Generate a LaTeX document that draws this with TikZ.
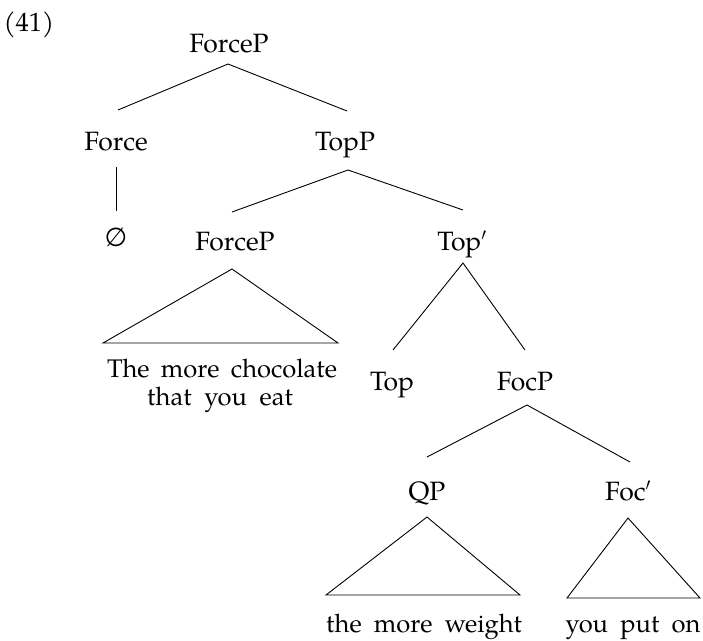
\documentclass[tikz,border=0pt]{standalone}
\usepackage{fontspec}
\setmainfont{TeX Gyre Pagella}
\newfontfamily\symfont{DejaVu Sans}
\usetikzlibrary{calc}
\begin{document}
\begin{tikzpicture}[x=1pt,y=-1pt,
  lbl/.style={inner sep=0pt,anchor=base,font=\fontsize{26.5}{30}\selectfont},
  leaf/.style={inner sep=0pt,anchor=base,font=\fontsize{25.5}{30}\selectfont},
  br/.style={line width=0.9pt}]
\path[use as bounding box] (0,0) rectangle (703,640);
\node[inner sep=0pt,font=\fontsize{26.5}{30}\selectfont] (ex) at (29,25) {(41)};
\node[lbl] (fp) at (229,52) {ForceP};
\node[lbl] (force) at (116,150) {Force};
\node[lbl] (topp) at (345,150) {TopP};
\node[inner sep=0pt,font=\symfont\fontsize{26}{30}\selectfont] (empty) at (116,237) {∅};
\node[lbl] (fp2) at (235,250) {ForceP};
\node[lbl] (topbar) at (462,250) {Top$'$};
\node[lbl] (top) at (392,390) {Top};
\node[lbl] (focp) at (525,390) {FocP};
\node[lbl] (qp) at (427,500) {QP};
\node[lbl] (focbar) at (628,500) {Foc$'$};
\node[leaf] (t1a) at (222,377) {\makebox[230pt][s]{The more chocolate}};
\node[leaf] (t1b) at (220,405) {\makebox[146pt][s]{that you eat}};
\node[leaf] (t2) at (424,632) {\makebox[196pt][s]{the more weight}};
\node[leaf] (t3) at (633,632) {\makebox[135pt][s]{you put on}};
% branches
\draw[br] ($(force.base)+(2,-40)$) -- ($(fp.base)+(-1,12)$) -- ($(topp.base)+(2,-39)$);
\draw[br] ($(force.base)+(0,17)$) -- ($(empty.center)+(0,-26)$);
\draw[br] ($(fp2.base)+(-3,-38)$) -- ($(topp.base)+(3,20)$) -- ($(topbar.base)+(1,-40)$);
\draw[br] ($(t1a.base)+(-119,-34)$) -- ($(fp2.base)+(-3,19)$) -- ($(t1a.base)+(116,-34)$) -- cycle;
\draw[br] ($(top.base)+(1,-40)$) -- ($(topbar.base)+(1,13)$) -- ($(focp.base)+(0,-40)$);
\draw[br] ($(qp.base)+(0,-43)$) -- ($(focp.base)+(2,15)$) -- ($(focbar.base)+(2,-38)$);
\draw[br] ($(t2.base)+(-98,-37)$) -- ($(qp.base)+(0,17)$) -- ($(t2.base)+(96,-37)$) -- cycle;
\draw[br] ($(t3.base)+(-66,-34)$) -- ($(focbar.base)+(0,18)$) -- ($(t3.base)+(67,-34)$) -- cycle;
\end{tikzpicture}
\end{document}
